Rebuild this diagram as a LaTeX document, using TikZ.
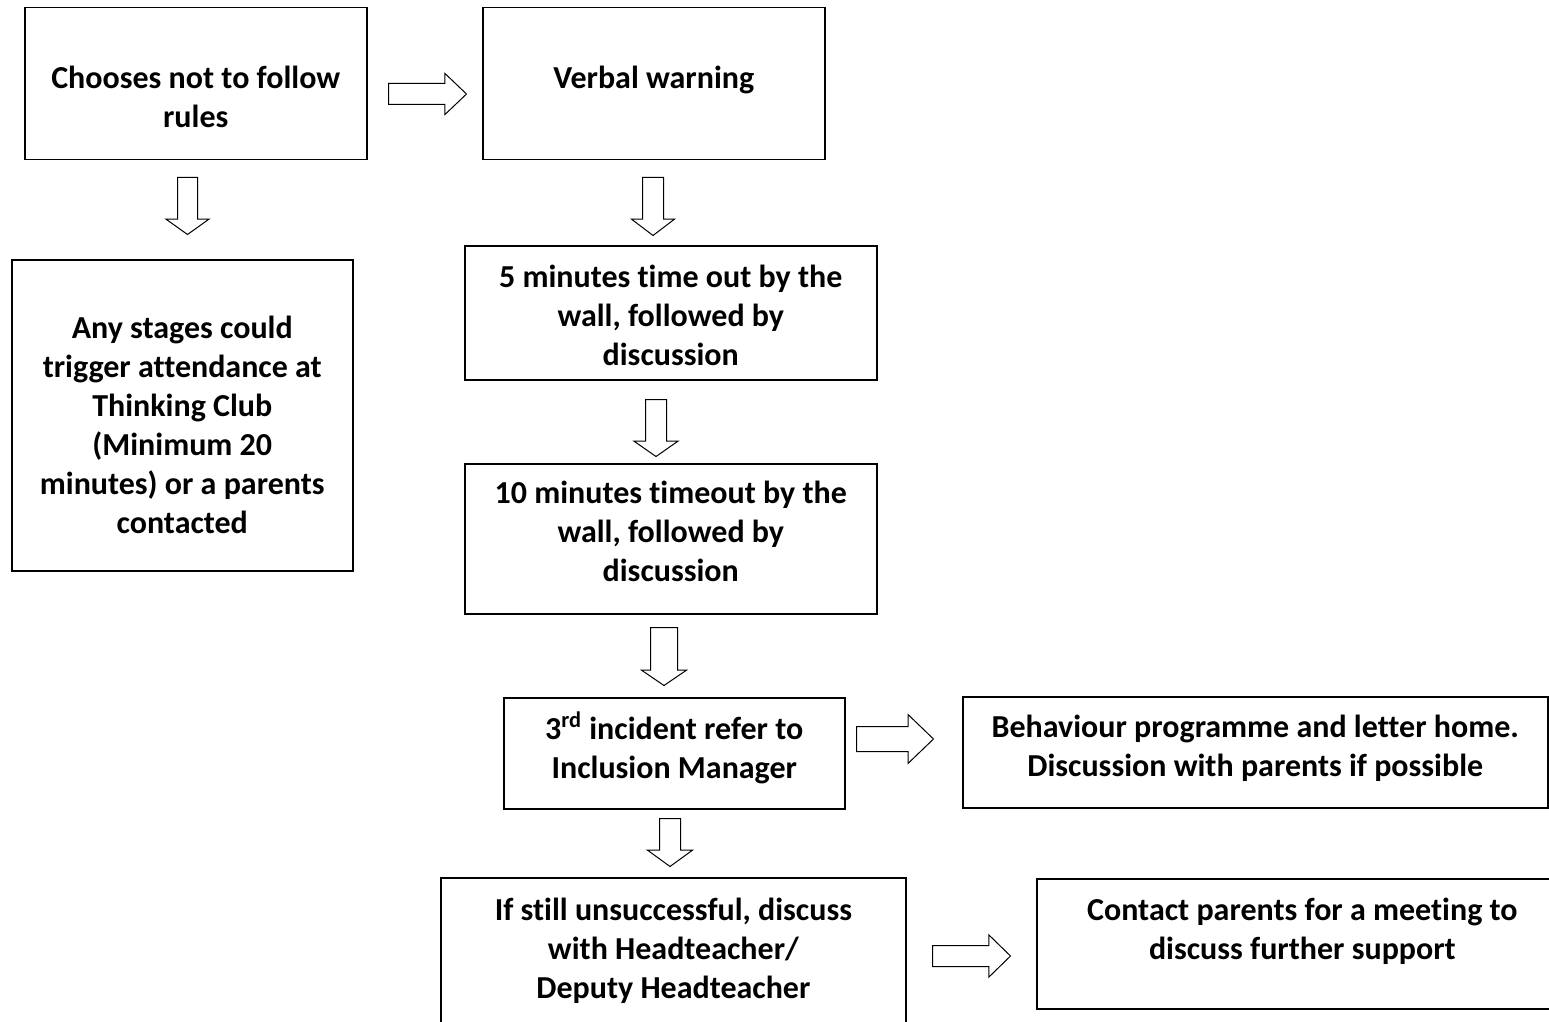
\documentclass[tikz,border=0pt]{standalone}
\usepackage{fontspec}
\setmainfont{Carlito}[RawFeature={-liga;-clig;-dlig;-calt}]
\usetikzlibrary{shapes.arrows}
\newcommand\bxt[4]{\parbox[t][#2][t]{#1}{\fontsize{16pt}{19.5pt}\selectfont\bfseries\centering\vspace*{#3}\strut #4\par}}
\tikzset{
  bx/.style={draw, line width=0.75pt, inner sep=0pt, anchor=north west},
  bxo/.style={inner sep=0pt, anchor=north west},
  edge/.style={line width=0.75pt},
  blk/.style={draw, single arrow, line width=0.5pt, inner xsep=0pt, anchor=tail,
    single arrow head indent=0pt, minimum width=1pt}
}
\begin{document}
\begin{tikzpicture}[x=0.5pt,y=-0.5pt]
\useasboundingbox (0,0) rectangle (1549,1022);
\clip (0,0) rectangle (1549,1022);
% boxes
\node[bx] (A) at (24,7) {\bxt{171pt}{76pt}{26.85pt}{Chooses not to follow\\rules}};
\node[bx] (B) at (482,7) {\bxt{171pt}{76pt}{26.85pt}{Verbal warning}};
\node[bx] (C) at (11,259) {\bxt{170.5pt}{155.5pt}{25.85pt}{Any stages could\\trigger attendance at\\Thinking Club\\(Minimum 20\\minutes) or a parents\\contacted}};
\node[bx] (D) at (464,245) {\bxt{206pt}{67pt}{7.35pt}{5 minutes time out by the\\wall, followed by\\discussion}};
\node[bx] (E) at (464,463) {\bxt{206pt}{75pt}{6.35pt}{10 minutes timeout by the\\wall, followed by\\discussion}};
\node[bx] (F) at (503,697) {\bxt{170.5pt}{55.5pt}{6.85pt}{3\textsuperscript{rd} incident refer to\\Inclusion Manager}};
\node[bx] (G) at (962,696) {\bxt{292.5pt}{55.5pt}{6.85pt}{Behaviour programme and letter home.\\Discussion with parents if possible}};
\node[bxo] (H) at (441,878) {\bxt{232pt}{95pt}{7.35pt}{If still unsuccessful, discuss\\with Headteacher/\\Deputy Headteacher}};
\draw[edge] (H.south west) -- (H.north west) -- (H.north east) -- (H.south east);
\node[bxo] (I) at (1037,879) {\bxt{265pt}{64.5pt}{6.85pt}{Contact parents for a meeting to\\discuss further support}};
\draw[edge] (I.north east) -- (I.north west) -- (I.south west) -- (I.south east);
% block arrows
\node[blk, minimum height=39pt, inner ysep=5pt, single arrow head extend=5pt, single arrow tip angle=87.2] (a1) at (388,94) {};
\node[blk, rotate=-90, minimum height=28.5pt, inner ysep=4.75pt, single arrow head extend=5.75pt, single arrow tip angle=108.9] (a2) at (187.5,177) {};
\node[blk, rotate=-90, minimum height=29pt, inner ysep=5pt, single arrow head extend=5.5pt, single arrow tip angle=105.4] (a3) at (653,177) {};
\node[blk, rotate=-90, minimum height=28.5pt, inner ysep=5pt, single arrow head extend=5.75pt, single arrow tip angle=110.2] (a4) at (656,399) {};
\node[blk, rotate=-90, minimum height=29pt, inner ysep=6.5pt, single arrow head extend=4.5pt, single arrow tip angle=111.4] (a5) at (664,627) {};
\node[blk, minimum height=38.5pt, inner ysep=6pt, single arrow head extend=6pt, single arrow tip angle=87.7] (a6) at (856,739) {};
\node[blk, rotate=-90, minimum height=24pt, inner ysep=5pt, single arrow head extend=6pt, single arrow tip angle=108] (a7) at (670,818) {};
\node[blk, minimum height=39pt, inner ysep=5pt, single arrow head extend=5.25pt, single arrow tip angle=88.6] (a8) at (932,956) {};
\end{tikzpicture}
\end{document}
